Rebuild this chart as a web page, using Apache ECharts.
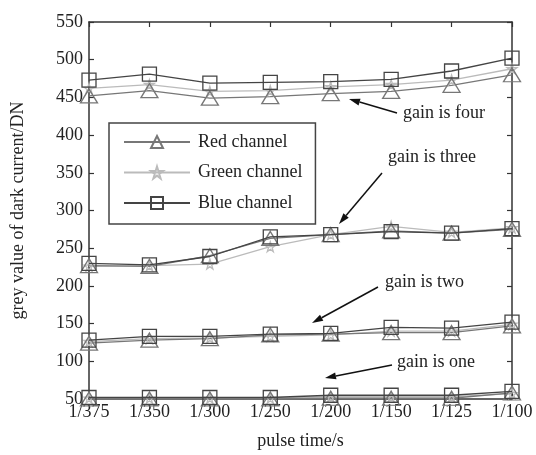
<!DOCTYPE html>
<html>
<head>
<meta charset="utf-8">
<script src="https://cdn.jsdelivr.net/npm/echarts@6/dist/echarts.min.js"></script>
<style>html,body{margin:0;padding:0;background:#fff}#c{width:536px;height:455px}</style>
</head>
<body>
<div id="c"></div>
<script>
var categories = ['1/375','1/350','1/300','1/250','1/200','1/150','1/125','1/100'];
var channelNames = ['Red channel','Green channel','Blue channel'];
// gain four
var red4   = [452, 459, 449, 451, 455, 458, 466, 480];
var green4 = [462, 467, 458, 459, 464, 467, 473, 488];
var blue4  = [473, 481, 469, 470, 471, 474, 485, 502];
// gain three
var red3   = [227, 226, 240, 263, 268, 273, 270, 275];
var green3 = [226, 227, 229, 252, 268, 279, 271, 277];
var blue3  = [230, 228, 239, 265, 268, 272, 270, 276];
// gain two
var red2   = [124, 128, 130, 135, 136, 138, 138, 147];
var green2 = [126, 130, 131, 133, 135, 140, 140, 149];
var blue2  = [128, 133, 133, 136, 137, 145, 144, 152];
// gain one
var red1   = [50, 50, 50, 50, 51, 51, 51, 58];
var green1 = [51, 51, 51, 51, 53, 53, 53, 57];
var blue1  = [52, 52, 52, 52, 55, 55, 55, 60];
var yTicks = {min: 50, max: 550, interval: 50};
var annotations = ['gain is four', 'gain is three', 'gain is two', 'gain is one'];

var FONT = '"Liberation Serif", "Times New Roman", serif';
var styles = {
  'Red channel':   {color: '#777', symbol: 'triangle', size: [17, 14]},
  'Green channel': {color: '#bbb', symbol: 'path://M50,0 L61,35 L98,35 L68,57 L79,92 L50,70 L21,92 L32,57 L2,35 L39,35 Z', size: 10},
  'Blue channel':  {color: '#444', symbol: 'rect', size: 14}
};
function mk(name, data) {
  var s = styles[name];
  return {
    name: name, type: 'line', data: data,
    symbol: s.symbol, symbolSize: s.size, showAllSymbol: true,
    lineStyle: {color: s.color, width: 1.3},
    itemStyle: {color: 'rgba(255,255,255,0)', borderColor: s.color, borderWidth: 1.3},
    emphasis: {disabled: true}, z: name === 'Blue channel' ? 3 : 2,
    clip: false, animation: false
  };
}
var series = [
  mk('Green channel', green4), mk('Red channel', red4), mk('Blue channel', blue4),
  mk('Green channel', green3), mk('Red channel', red3), mk('Blue channel', blue3),
  mk('Green channel', green2), mk('Red channel', red2), mk('Blue channel', blue2),
  mk('Green channel', green1), mk('Red channel', red1), mk('Blue channel', blue1)
];

function arrow(x1, y1, x2, y2) {
  var ang = Math.atan2(y2 - y1, x2 - x1);
  var L = 11, W = 3.5;
  var bx = x2 - L * Math.cos(ang), by = y2 - L * Math.sin(ang);
  var px = -Math.sin(ang) * W, py = Math.cos(ang) * W;
  return [
    {type: 'line', shape: {x1: x1, y1: y1, x2: bx, y2: by}, style: {stroke: '#111', lineWidth: 1.5}, z: 10},
    {type: 'polygon', shape: {points: [[x2, y2], [bx + px, by + py], [bx - px, by - py]]}, style: {fill: '#111'}, z: 10}
  ];
}
function label(text, x, y) {
  return {type: 'text', left: x, top: y - 10, style: {text: text, font: '18px ' + FONT, fill: '#222'}, z: 10};
}
var graphics = [].concat(
  [label(annotations[0], 403, 114)], arrow(397, 113, 349, 99),
  [label(annotations[1], 388, 158)], arrow(382, 173, 339, 224),
  [label(annotations[2], 385, 283)], arrow(378, 287, 312, 323),
  [label(annotations[3], 397, 363)], arrow(392, 365, 325, 378)
);

var axisLine = {show: true, lineStyle: {color: '#333', width: 1.5}};
var tick = {show: true, inside: true, length: 5, lineStyle: {color: '#333', width: 1.2}};
var option = {
  backgroundColor: '#fff',
  animation: false,
  grid: {left: 89, right: 24, top: 22, bottom: 54},
  legend: {
    data: channelNames, orient: 'vertical', left: 109, top: 123,
    padding: [10, 13, 12, 14], itemGap: 12.5, itemWidth: 66, itemHeight: 15,
    borderColor: '#444', borderWidth: 1.5, backgroundColor: '#fff',
    textStyle: {fontFamily: FONT, fontSize: 18, color: '#222', padding: [0, 0, 0, 3]},
    selectedMode: false, z: 8
  },
  xAxis: [{
    type: 'category', data: categories, boundaryGap: false,
    name: 'pulse time/s', nameLocation: 'middle', nameGap: 33,
    nameTextStyle: {fontFamily: FONT, fontSize: 18, color: '#222'},
    axisLine: axisLine, axisTick: tick,
    axisLabel: {fontFamily: FONT, fontSize: 18, color: '#222', margin: 4},
    splitLine: {show: false}
  }, {
    type: 'category', data: categories, boundaryGap: false, position: 'top',
    axisLine: axisLine, axisTick: tick, axisLabel: {show: false}, splitLine: {show: false}
  }],
  yAxis: [{
    type: 'value', min: yTicks.min, max: yTicks.max, interval: yTicks.interval,
    name: 'grey value of dark current/DN', nameLocation: 'middle', nameGap: 62,
    nameTextStyle: {fontFamily: FONT, fontSize: 18, color: '#222'},
    axisLine: axisLine, axisTick: tick,
    axisLabel: {fontFamily: FONT, fontSize: 18, color: '#222', margin: 6},
    splitLine: {show: false}
  }, {
    type: 'value', min: yTicks.min, max: yTicks.max, interval: yTicks.interval, position: 'right',
    axisLine: axisLine, axisTick: tick, axisLabel: {show: false}, splitLine: {show: false}
  }],
  series: series,
  graphic: graphics
};
echarts.init(document.getElementById('c')).setOption(option);
</script>
</body>
</html>
